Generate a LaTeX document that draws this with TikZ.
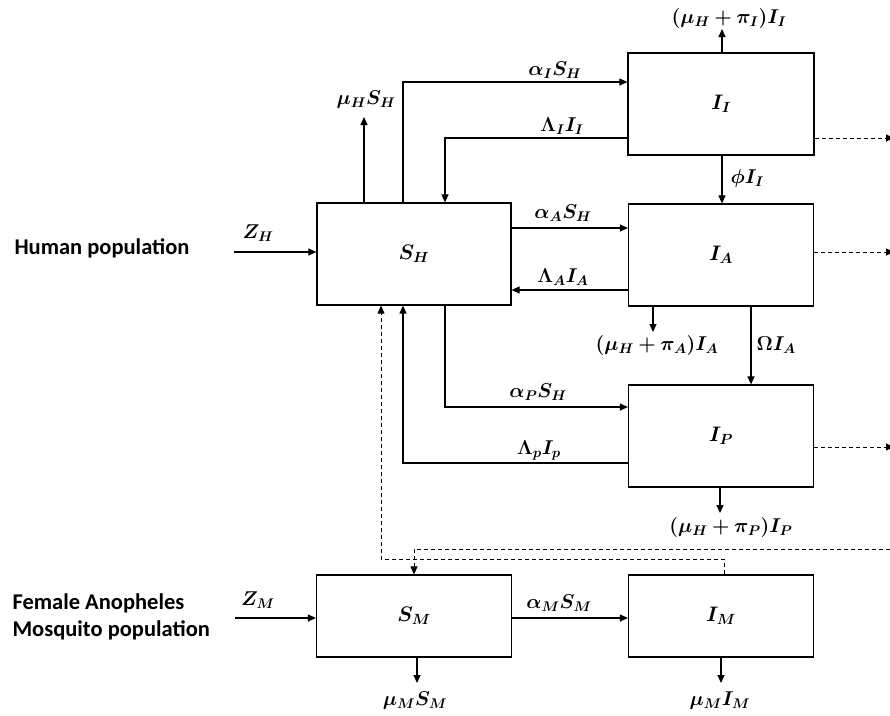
\RequirePackage{fix-cm}
\documentclass[tikz,border=0pt]{standalone}
\usepackage{fontspec}
\usepackage{bm}
\setsansfont{Carlito}
\usetikzlibrary{arrows.meta}
\begin{document}
\begin{tikzpicture}[x=1pt,y=-1pt,
  line width=1.1pt,
  box/.style={draw, line width=1.2pt, inner sep=0pt, font=\fontsize{21}{25}\selectfont},
  arr/.style={-{Triangle[length=8pt,width=7pt]}},
  dsh/.style={dash pattern=on 4pt off 3pt, line width=0.9pt},
  lab/.style={font=\fontsize{20}{24}\selectfont, inner sep=1pt},
  pop/.style={font=\fontsize{22.5}{27}\selectfont\sffamily\bfseries, inner sep=0pt}]
\useasboundingbox (0,0) rectangle (890,715);
% boxes
\node[box, minimum width=194pt, minimum height=102pt] (SH) at (414,254) {$\bm{S_H}$};
\node[box, minimum width=186pt, minimum height=102pt] (II) at (721,104) {$\bm{I_I}$};
\node[box, minimum width=185pt, minimum height=102pt] (IA) at (721,255) {$\bm{I_A}$};
\node[box, minimum width=185pt, minimum height=102pt] (IP) at (721,436) {$\bm{I_P}$};
\node[box, minimum width=195pt, minimum height=82pt] (SM) at (414,616) {$\bm{S_M}$};
\node[box, minimum width=185pt, minimum height=82pt] (IM) at (721,616) {$\bm{I_M}$};
% population labels
\node[pop] (hp) at (102,248) {Human population};
\node[pop, anchor=west] (fa) at (12,603) {Female Anopheles};
\node[pop, anchor=west] (mp) at (12,630) {Mosquito population};
% coordinates
\coordinate (zh) at (234,252);
\coordinate (muh) at (364,117);
\coordinate (ai) at (403,82);
\coordinate (li) at (445,138);
\coordinate (aa) at (570,228);
\coordinate (la) at (570,290);
\coordinate (dia) at (653,332);
\coordinate (om) at (751,330);
\coordinate (ap) at (445,407);
\coordinate (lp) at (403,463);
\coordinate (dip) at (720,513);
\coordinate (dii) at (722,29);
\coordinate (eI) at (894,138);
\coordinate (eA) at (894,252);
\coordinate (eP) at (894,447);
\coordinate (hm) at (890,549);
\coordinate (hmc) at (414,549);
\coordinate (mh) at (724,559);
\coordinate (mhc) at (381,559);
\coordinate (zm) at (235,618);
\coordinate (msm) at (417,683);
\coordinate (mim) at (721,683);
% human connectors
\draw[arr] (zh) -- (zh -| SH.west);
\draw[arr] (muh |- SH.north) -- (muh);
\draw[arr] (ai |- SH.north) -- (ai) -- (ai -| II.west);
\draw[arr] (li -| II.west) -- (li) -- (li |- SH.north);
\draw[arr] (II.north -| dii) -- (dii);
\draw[arr] (II.south -| dii) -- (IA.north -| dii);
\draw[arr] (SH.east |- aa) -- (IA.west |- aa);
\draw[arr] (IA.west |- la) -- (SH.east |- la);
\draw[arr] (IA.south -| dia) -- (dia);
\draw[arr] (IA.south -| om) -- (IP.north -| om);
\draw[arr] (SH.south -| ap) -- (ap) -- (ap -| IP.west);
\draw[arr] (IP.west |- lp) -- (lp) -- (lp |- SH.south);
\draw[arr] (IP.south -| dip) -- (dip);
% dashed connectors
\draw[arr, dsh] (II.east |- eI) -- (eI);
\draw[arr, dsh] (IA.east |- eA) -- (eA);
\draw[arr, dsh] (IP.east |- eP) -- (eP);
\draw[arr, dsh] (hm) -- (hmc) -- (hmc |- SM.north);
\draw[arr, dsh] (IM.north -| mh) -- (mh) -- (mhc) -- (mhc |- SH.south);
% mosquito connectors
\draw[arr] (zm) -- (zm -| SM.west);
\draw[arr] (SM.east |- zm) -- (IM.west |- zm);
\draw[arr] (SM.south -| msm) -- (msm);
\draw[arr] (IM.south -| mim) -- (mim);
% labels
\node[lab] (tzh) at (258,233) {$\bm{Z_H}$};
\node[lab] (tmuh) at (366,100) {$\bm{\mu_H S_H}$};
\node[lab] (tai) at (555,70) {$\bm{\alpha_I S_H}$};
\node[lab] (tli) at (562,126) {$\bm{\Lambda_I I_I}$};
\node[lab] (tdii) at (729,18) {$\bm{(\mu_H+\pi_I)I_I}$};
\node[lab, anchor=west] (tphi) at (729,178) {$\bm{\phi I_I}$};
\node[lab] (taa) at (563,213) {$\bm{\alpha_A S_H}$};
\node[lab] (tla) at (563,277) {$\bm{\Lambda_A I_A}$};
\node[lab] (tdia) at (657,345) {$\bm{(\mu_H+\pi_A)I_A}$};
\node[lab, anchor=west] (tom) at (755,345) {$\bm{\Omega I_A}$};
\node[lab] (tap) at (538,392) {$\bm{\alpha_P S_H}$};
\node[lab] (tlp) at (539,450) {$\bm{\Lambda_p I_p}$};
\node[lab] (tdip) at (731,527) {$\bm{(\mu_H+\pi_P)I_P}$};
\node[lab] (tzm) at (258,600) {$\bm{Z_M}$};
\node[lab] (tam) at (559,603) {$\bm{\alpha_M S_M}$};
\node[lab] (tmsm) at (415,701) {$\bm{\mu_M S_M}$};
\node[lab] (tmim) at (720,701) {$\bm{\mu_M I_M}$};
\end{tikzpicture}
\end{document}
